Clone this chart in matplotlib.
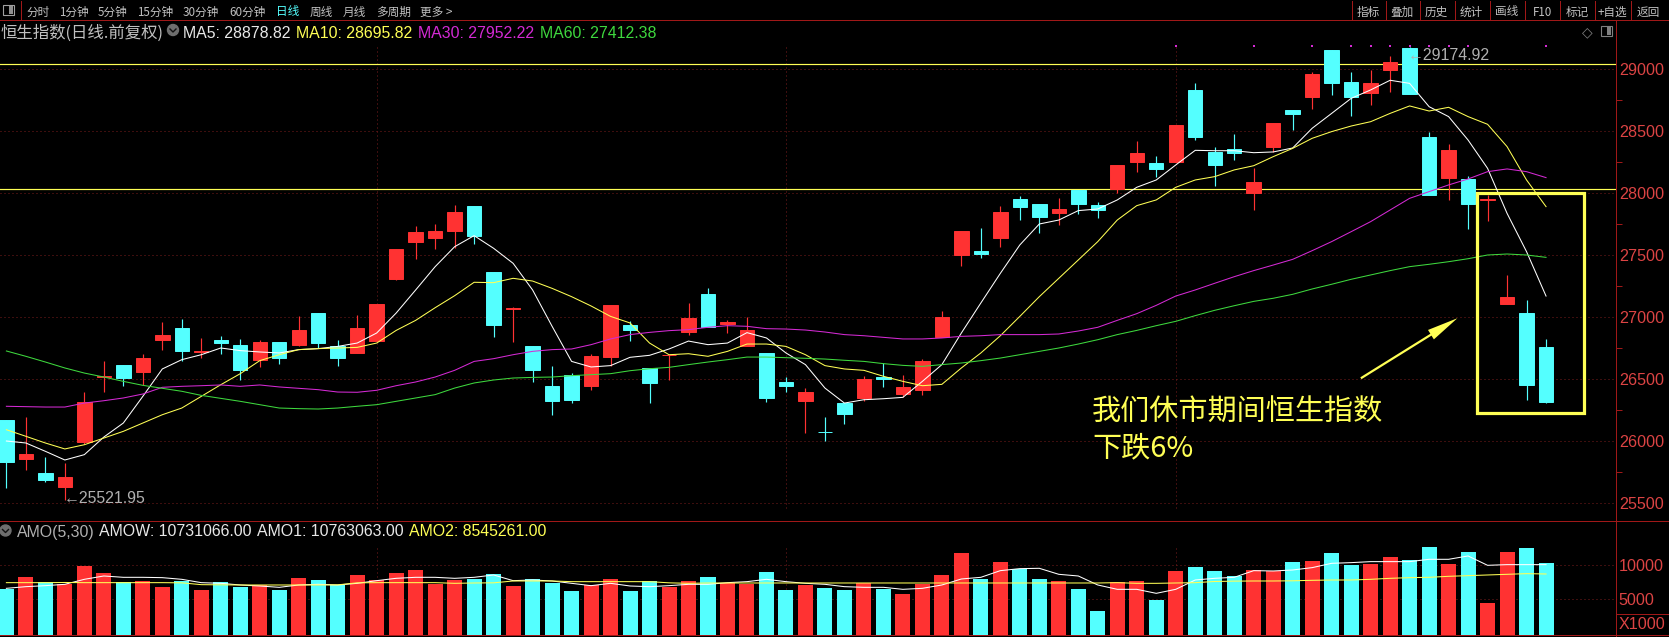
import numpy as np
import matplotlib
matplotlib.use("Agg")
import matplotlib.pyplot as plt
from matplotlib.lines import Line2D
from matplotlib.patches import Rectangle, Ellipse

plt.rcParams['font.family'] = ['Noto Sans CJK SC', 'DejaVu Sans']

W, H = 1669, 637

opens = [26172,25858,25745,25632,25995,26513,26616,26559,26817,26914,
         26720,26817,26777,26656,26801,26777,27035,26769,26712,26809,
         27307,27605,27637,27694,27895,27363,27063,26769,26446,26535,
         26446,26680,26938,26589,26690,26882,27186,26946,26769,26712,
         26479,26325,26075,26309,26349,26519,26382,26414,26841,27500,
         27532,27637,27952,27911,27839,28024,27903,28032,28250,28242,
         28250,28831,28331,28355,28000,28371,28669,28774,29153,28895,
         28806,28992,29169,28452,28121,28113,27942,27105,27032,26761]
closes = [25828,25898,25688,25712,26317,26522,26511,26672,26858,26729,
          26726,26793,26575,26801,26672,26898,26793,26672,26914,27108,
          27548,27686,27694,27847,27653,26933,27070,26575,26325,26333,
          26688,27099,26898,26470,26696,26995,26922,26962,26898,26349,
          26446,26398,26071,26220,26503,26503,26438,26648,27003,27694,
          27508,27847,27887,27806,27871,27911,27863,28226,28323,28194,
          28548,28452,28226,28323,28089,28565,28637,28960,28887,28774,
          28887,29056,28798,27984,28347,27911,27948,27161,26454,26317]
highs = [26172,26191,25874,25820,26395,26642,26616,26704,26960,26987,
         26833,26849,26825,26817,26801,27011,27035,26817,27019,27108,
         27548,27734,27750,27903,27895,27363,27080,26769,26608,26548,
         26704,27099,26970,26589,26696,27116,27234,26978,27003,26712,
         26519,26430,26196,26309,26527,26632,26535,26664,27051,27694,
         27718,27895,27976,27911,27960,28024,27927,28226,28419,28298,
         28548,28887,28371,28476,28202,28565,28669,28976,29153,28976,
         28992,29105,29175,28492,28395,28137,27984,27339,27137,26825]
lows = [25618,25769,25667,25522,25979,26393,26441,26454,26737,26648,
        26667,26704,26495,26600,26624,26769,26753,26608,26712,26809,
        27298,27468,27548,27554,27589,26836,26801,26473,26212,26309,
        26414,26608,26809,26309,26495,26858,26922,26874,26769,26317,
        26398,26067,26003,26140,26325,26438,26358,26374,26841,27411,
        27476,27565,27782,27677,27742,27831,27798,28003,28169,28129,
        28250,28427,28056,28266,27863,28331,28508,28677,28790,28621,
        28710,28815,28798,27984,27944,27710,27774,27105,26333,26306]
ma5 = [26000,25984,25917,25847,25890,26032,26145,26360,26581,26656,
       26696,26750,26729,26718,26710,26737,26745,26763,26790,26871,
       27032,27218,27406,27567,27656,27554,27433,27218,26925,26642,
       26597,26608,26675,26691,26742,26806,26777,26790,26874,26831,
       26710,26616,26427,26306,26333,26341,26352,26481,26616,26871,
       27113,27352,27581,27750,27782,27858,27871,27944,28046,28105,
       28226,28344,28341,28341,28325,28331,28363,28522,28642,28763,
       28831,28909,28884,28696,28616,28427,28199,27836,27527,27169]
ma10 = [26091,26038,25984,25936,25970,26024,26078,26145,26212,26266,
        26360,26454,26543,26648,26696,26737,26745,26750,26755,26790,
        26892,26973,27075,27172,27280,27277,27312,27290,27231,27164,
        27089,27005,26952,26790,26696,26704,26683,26723,26782,26782,
        26763,26696,26608,26581,26570,26522,26481,26446,26457,26589,
        26710,26849,27005,27164,27312,27460,27608,27782,27898,27944,
        28046,28105,28132,28186,28220,28293,28360,28441,28495,28540,
        28575,28642,28702,28661,28691,28616,28554,28374,28105,27890]
ma30 = [26280,26277,26274,26274,26306,26325,26347,26379,26433,26441,
        26446,26452,26441,26452,26436,26425,26414,26395,26393,26409,
        26446,26476,26516,26570,26642,26664,26696,26723,26737,26742,
        26777,26823,26858,26876,26890,26898,26917,26930,26925,26906,
        26903,26895,26879,26858,26849,26836,26823,26823,26831,26844,
        26849,26858,26858,26858,26863,26887,26917,26973,27027,27094,
        27169,27218,27272,27325,27374,27419,27465,27535,27608,27688,
        27769,27863,27957,28011,28065,28113,28172,28194,28172,28124]
ma60 = [26726,26683,26637,26589,26548,26516,26481,26449,26425,26401,
        26368,26344,26320,26293,26266,26261,26258,26266,26280,26293,
        26320,26347,26374,26427,26468,26492,26508,26513,26516,26527,
        26535,26543,26567,26583,26594,26616,26637,26656,26677,26677,
        26672,26667,26661,26651,26642,26624,26610,26602,26616,26629,
        26648,26669,26696,26723,26750,26782,26817,26858,26892,26930,
        26965,27011,27054,27091,27126,27151,27183,27226,27264,27304,
        27339,27374,27406,27425,27446,27470,27500,27508,27500,27481]
amounts = [6435,8267,7475,7178,9900,8861,7475,7673,6782,7673,
           6336,7475,6782,7079,6336,8118,7821,7079,8564,7772,
           8861,9306,7277,7772,7970,8712,6930,7970,7376,6188,
           7079,7970,6188,7673,6782,7673,8267,7376,7277,9009,
           6336,7079,6633,6336,7376,6485,5742,7227,8564,11831,
           7970,10494,9455,7970,7623,6485,3218,7475,7673,4851,
           9158,9752,9158,8415,9306,9158,10494,10643,11831,10049,
           10197,11237,10791,12722,10197,11979,4406,11979,12573,10346]
amo1 = [6584,6831,6980,7178,7920,8415,8217,8217,8168,7920,
        7425,7326,7079,6930,6732,7079,7178,7079,7326,7722,
        8069,8217,8217,8069,8217,8564,7722,7821,7673,7326,
        6980,7326,6930,6831,6980,7178,7178,7425,7574,7920,
        7574,7326,7178,6831,6732,6732,6435,6584,7079,7970,
        8217,9207,9504,9554,8663,8415,7079,6435,6435,5841,
        6435,7821,8069,8217,9207,9158,9306,9653,10296,10395,
        10544,10544,10544,10890,10890,11385,9999,10098,10098,10098]
amo2 = [7425,7425,7425,7450,7425,7425,7425,7425,7425,7400,
        7129,7100,7079,7079,7079,7079,7079,7100,7400,7425,
        7425,7425,7425,7326,7376,7400,7673,7673,7673,7574,
        7574,7574,7574,7574,7400,7326,7376,7376,7376,7376,
        7376,7376,7376,7376,7376,7376,7376,7376,7376,7376,
        7376,7376,7376,7376,7376,7376,7376,7425,7326,7326,
        7376,7425,7600,7650,7673,7673,7700,7772,7820,7820,
        7920,8069,8168,8217,8366,8465,8564,8663,8762,8712]
price_ticks = [25500,26000,26500,27000,27500,28000,28500,29000]
amount_ticks = [5000,10000]
level_lines = [29038,28030]
signal_days = [60,64,67,69,70,71,72,73,74,75,79]
signal_level = 29185
grid_days = [19,40,60]
left_tools = ['分时','1分钟','5分钟','15分钟','30分钟','60分钟','日线','周线','月线','多周期','更多 >']
left_tool_x = [26,59,98,137,183,229,276,310,343,376,420]
right_tools = ['指标','叠加','历史','统计','画线','F10','标记','+自选','返回']
right_tool_x = [1357,1390,1425,1460,1495,1533,1566,1598,1637]
right_seps = [1351.5,1385.6,1420,1455,1490,1525,1560,1595,1630.5]

RED = '#ff3232'
CYAN = '#54ffff'
YEL = '#ffff55'
MAG = '#d42ad4'
GRN = '#3ed83e'
AXR = '#a01818'
GRD = '#7a1c1c'
TXT = '#c0c0c0'
TICK = '#dc4444'
LAT = ['Liberation Sans', 'Noto Sans CJK SC']
CJK = ['Noto Sans CJK SC', 'Liberation Sans']

fig = plt.figure(figsize=(W/100, H/100), dpi=100, facecolor='black')

def fx(p): return p/W
def fy(p): return 1-p/H
def label(x, y, s, color=TXT, size=11.4, family=LAT, ha='left'):
    return fig.text(fx(x), fy(y), s, color=color, fontsize=size, family=family, ha=ha, va='center_baseline')
def hline(y, x0=0, x1=W, color=AXR, lw=1.0):
    fig.add_artist(Line2D([fx(x0), fx(x1)], [fy(y), fy(y)], color=color, lw=lw*0.72))
def vline(x, y0, y1, color=AXR, lw=1.0):
    fig.add_artist(Line2D([fx(x), fx(x)], [fy(y0), fy(y1)], color=color, lw=lw*0.72))

AX_R = 1616
ax = fig.add_axes([0, fy(521), fx(AX_R), (521-20)/H], facecolor='black')
av = fig.add_axes([0, fy(635), fx(AX_R), (635-521)/H], facecolor='black', sharex=ax)
XL = (-0.328, 82.59)
ax.set_xlim(*XL)
ax.set_ylim(25355, 29395)
VL = (-341, 16573)
av.set_ylim(*VL)

days = np.arange(len(opens))
o, c, h, l = map(np.array, (opens, closes, highs, lows))
colors = [RED if b >= a else CYAN for a, b in zip(o, c)]

for a in (ax, av):
    for s in a.spines.values():
        s.set_visible(False)
    a.set_xticks([])
    a.yaxis.tick_right()
    a.tick_params(axis='y', which='major', length=0, pad=2, labelcolor=TICK)
    a.grid(axis='y', color=GRD, linestyle=(0, (1, 3)), lw=0.72, zorder=0)
    a.set_axisbelow(True)

ax.set_yticks(price_ticks)
ax.set_yticklabels([str(t) for t in price_ticks], family=LAT, fontsize=11.6)
ax.set_yticks([t+250 for t in price_ticks[:-1]], minor=True)
ax.tick_params(axis='y', which='minor', length=4, width=0.72, color=AXR, right=True)
av.set_yticks(amount_ticks)
av.set_yticklabels([str(t) for t in amount_ticks], family=LAT, fontsize=11.6)

ax.vlines(grid_days, 25460, 29185, color=GRD, linestyle=(0, (1, 3)), lw=0.72, zorder=0.5)
av.vlines(grid_days, 0, 12800, color=GRD, linestyle=(0, (1, 3)), lw=0.72, zorder=0.5)
for y in level_lines:
    ax.axhline(y, color=YEL, lw=0.85, zorder=1)

ax.vlines(days, l, h, colors=colors, lw=0.85, zorder=2)
ax.bar(days, np.abs(c-o), bottom=np.minimum(o, c), width=0.74, color=colors, edgecolor=colors, lw=0.7, zorder=3)

ax.plot(days, ma5, color='#ffffff', lw=0.75, zorder=5)
ax.plot(days, ma10, color=YEL, lw=0.75, zorder=5)
ax.plot(days, ma30, color=MAG, lw=0.75, zorder=5)
ax.plot(days, ma60, color=GRN, lw=0.75, zorder=5)
ax.scatter(signal_days, [signal_level]*len(signal_days), s=2.5, color=MAG, marker='s', lw=0, zorder=4)

ax.add_patch(Rectangle((75.47, 26223), 5.46, 1779, fill=False, edgecolor=YEL, lw=2.3, zorder=6))
ax.annotate('', xy=(74.45, 26990), xytext=(69.5, 26506),
            arrowprops=dict(arrowstyle='simple,tail_width=0.1,head_width=0.5,head_length=1.4',
                            color=YEL, lw=0, shrinkA=0, shrinkB=0, mutation_scale=16), zorder=6)

av.bar(days, np.array(amounts)-VL[0], bottom=VL[0], width=0.77, color=colors, lw=0, zorder=3)
av.plot(days, amo1, color='#ffffff', lw=0.75, zorder=5)
av.plot(days, amo2, color=YEL, lw=0.75, zorder=5)

# frame
hline(20); hline(521); hline(635)
vline(AX_R, 20, 637)
hline(614, AX_R, W)
vline(21.4, 1, 20)
for x in right_seps:
    vline(x, 1, 20)

for s, x in zip(left_tools, left_tool_x):
    label(x, 10.5, s, color=(CYAN if s == '日线' else TXT), size=8.4, family=CJK)
for s, x in zip(right_tools, right_tool_x):
    label(x, 10.5, s, size=8.4, family=CJK)
fig.add_artist(Rectangle((fx(3), fy(15)), 11/W, 10/H, fill=False, edgecolor='#a0a0a0', lw=0.8, transform=fig.transFigure))
fig.add_artist(Rectangle((fx(9), fy(14)), 4/W, 8/H, color='#909090', lw=0, transform=fig.transFigure))

# title rows
label(1, 31.5, '恒生指数(日线.前复权)', size=11.8, family=CJK)
for cx, cy in [(173, 30), (5.5, 530.5)]:
    fig.add_artist(Ellipse((fx(cx), fy(cy)), 11/W, 11/H, color='#6e6e6e', transform=fig.transFigure))
    fig.add_artist(Line2D([fx(cx-3), fx(cx), fx(cx+3)], [fy(cy-1), fy(cy+2), fy(cy-1)], color='#111111', lw=1.0))
label(183, 31.5, 'MA5: 28878.82', color='#e8e8e8')
label(296, 31.5, 'MA10: 28695.82', color=YEL)
label(418, 31.5, 'MA30: 27952.22', color=MAG)
label(540, 31.5, 'MA60: 27412.38', color=GRN)
label(17, 530.5, 'AMO(5,30)', color='#b0b0b0')
label(99, 530.5, 'AMOW: 10731066.00', color='#e8e8e8')
label(257, 530.5, 'AMO1: 10763063.00', color='#e8e8e8')
label(409, 530.5, 'AMO2: 8545261.00', color=YEL)
label(63.5, 497, '←25521.95', color='#b0b0b0', family=['Liberation Sans', 'DejaVu Sans'])
label(1408, 54, '←29174.92', color='#b0b0b0', family=['Liberation Sans', 'DejaVu Sans'])
label(1619, 623, 'X1000', color=TICK, size=11.6)
label(1582, 31, '◇', color='#808080', size=10, family=['DejaVu Sans'])
fig.add_artist(Rectangle((fx(1601), fy(36)), 11/W, 10/H, fill=False, edgecolor='#808080', lw=0.8, transform=fig.transFigure))
fig.add_artist(Rectangle((fx(1607), fy(35)), 4/W, 8/H, color='#808080', lw=0, transform=fig.transFigure))

# commentary
label(1092, 409.5, '我们休市期间恒生指数', color=YEL, size=21, family=CJK)
label(1092, 445, '下跌6%', color=YEL, size=21, family=CJK)

fig.savefig('out.png', dpi=100, facecolor='black')
